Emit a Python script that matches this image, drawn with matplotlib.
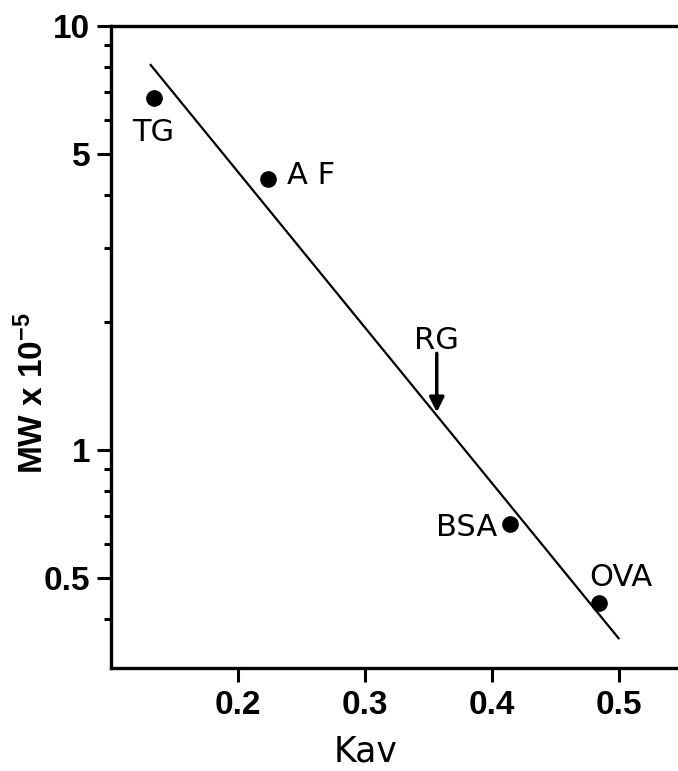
import matplotlib
matplotlib.use('Agg')
import matplotlib.pyplot as plt
from matplotlib.ticker import FixedLocator, NullFormatter

plt.rcParams['font.family'] = ['Liberation Sans', 'DejaVu Sans']
plt.rcParams['mathtext.fontset'] = 'custom'
plt.rcParams['mathtext.rm'] = 'Liberation Sans:bold'
plt.rcParams['mathtext.default'] = 'rm'

# standards: Kav vs molecular weight (x 10^-5)
names = ['TG', 'A F', 'BSA', 'OVA']
kav = [0.134, 0.224, 0.414, 0.484]
mw = [6.75, 4.35, 0.668, 0.435]

# fitted calibration line (end points)
fit_kav = [0.1307, 0.5002]
fit_mw = [8.13, 0.358]

# unknown RG
rg_kav = 0.3565
rg_mw_tip = 1.227
rg_mw_tail = 1.69

x_ticks = [0.2, 0.3, 0.4, 0.5]
y_ticks = [0.5, 1, 5, 10]
y_tick_labels = ['0.5', '1', '5', '10']
y_minor = [0.4, 0.6, 0.7, 0.8, 0.9, 2, 3, 4, 6, 7, 8, 9]

W, H = 678, 771
fig = plt.figure(figsize=(W / 100, H / 100), dpi=100)
left_px, bottom_px, top_px = 111, 668, 26
px_per_unit = 1270
xmin, xmax = 0.1, 0.6
ax = fig.add_axes([left_px / W, (H - bottom_px) / H,
                   (xmax - xmin) * px_per_unit / W, (bottom_px - top_px) / H])

ax.plot(fit_kav, fit_mw, color='black', lw=1.6, solid_capstyle='butt')
ax.plot(kav, mw, 'o', color='black', markersize=11)

ax.set_yscale('log')
ax.set_xlim(xmin, xmax)
ax.set_ylim(0.306, 10)

ax.set_xticks(x_ticks)
ax.set_xticklabels([f'{t:.1f}' for t in x_ticks])
ax.yaxis.set_major_locator(FixedLocator(y_ticks))
ax.set_yticklabels(y_tick_labels)
ax.yaxis.set_minor_locator(FixedLocator(y_minor))
ax.yaxis.set_minor_formatter(NullFormatter())

for lab in ax.get_xticklabels() + ax.get_yticklabels():
    lab.set_fontweight('bold')
ax.tick_params(axis='both', which='major', direction='out', length=10, width=2.2,
               labelsize=24)
ax.tick_params(axis='x', which='major', pad=6)
ax.tick_params(axis='y', which='major', pad=5)
ax.tick_params(axis='y', which='minor', direction='out', length=5, width=2.2)

for side in ['left', 'bottom', 'top']:
    ax.spines[side].set_linewidth(2.4)
ax.spines['right'].set_visible(False)

# labels for the standards
lab_font = dict(fontsize=22, family=['DejaVu Sans'])
ax.text(0.1331, 5.6, 'TG', ha='center', va='center', **lab_font)
ax.text(0.2386, 4.45, 'A F', ha='left', va='center', **lab_font)
ax.text(0.4039, 0.655, 'BSA', ha='right', va='center', **lab_font)
ax.text(0.4764, 0.499, 'OVA', ha='left', va='center', **lab_font)

ax.text(rg_kav, 1.81, 'RG', ha='center', va='center', **lab_font)
ax.annotate('', xy=(rg_kav, rg_mw_tip), xytext=(rg_kav, rg_mw_tail),
            arrowprops=dict(arrowstyle='-|>', color='black', lw=2.5,
                            mutation_scale=22, shrinkA=0, shrinkB=0))

fig.text(33 / W, 1 - 393 / H, 'MW x 10$^{-5}$', rotation=90, fontsize=24,
         fontweight='bold', ha='center', va='center')
fig.text(366 / W, 2 / H, 'Kav', fontsize=25, family=['DejaVu Sans'],
         ha='center', va='bottom')

fig.savefig('out.png', dpi=100)
